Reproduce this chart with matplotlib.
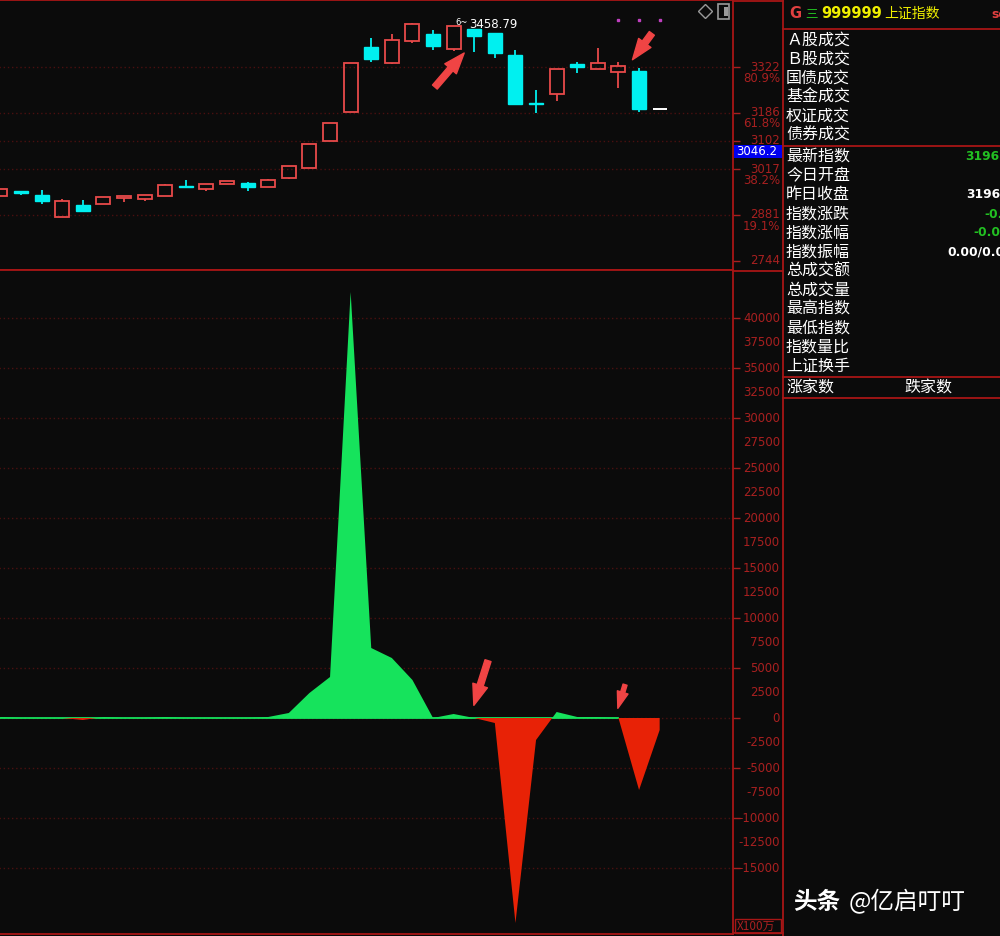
import numpy as np
import matplotlib
matplotlib.use('Agg')
import matplotlib.pyplot as plt
from matplotlib.patches import Rectangle
from matplotlib.lines import Line2D
from matplotlib.transforms import blended_transform_factory

# ---- data: daily candles of 上证指数 (last one = today, no trade yet)
opens = [2937.6, 2952.5, 2940.6, 2875.1, 2910.8, 2913.8, 2931.7, 2928.7, 2937.6, 2967.4,
         2958.5, 2973.4, 2976.4, 2964.4, 2991.3, 3021.1, 3101.5, 3188.0, 3381.6, 3334.0,
         3399.5, 3420.4, 3375.7, 3435.3, 3423.4, 3357.8, 3215.0, 3241.6, 3331.0, 3316.1,
         3307.1, 3310.1, 3196.9]
closes = [2958.5, 2946.6, 2922.7, 2922.7, 2892.9, 2934.6, 2937.6, 2940.6, 2970.4, 2964.4,
          2973.4, 2982.3, 2964.4, 2985.3, 3027.0, 3092.6, 3155.2, 3334.0, 3345.9, 3402.5,
          3450.2, 3384.6, 3444.2, 3414.4, 3363.8, 3211.8, 3212.5, 3316.1, 3322.0, 3334.0,
          3325.0, 3196.9, 3196.9]
highs = [2958.5, 2952.5, 2955.5, 2928.7, 2925.7, 2934.6, 2937.6, 2940.6, 2973.4, 2985.3,
         2973.4, 2982.3, 2979.3, 2988.3, 3027.0, 3092.6, 3155.2, 3334.0, 3408.5, 3420.4,
         3453.2, 3432.3, 3444.2, 3435.3, 3423.4, 3372.7, 3253.5, 3316.1, 3336.9, 3378.7,
         3336.9, 3319.0, 3196.9]
lows = [2937.6, 2940.6, 2913.8, 2875.1, 2892.9, 2913.8, 2919.7, 2922.7, 2937.6, 2961.5,
        2952.5, 2973.4, 2952.5, 2964.4, 2988.3, 3021.1, 3101.5, 3188.0, 3336.9, 3331.0,
        3393.6, 3372.7, 3369.7, 3366.7, 3348.9, 3211.8, 3185.0, 3220.7, 3304.2, 3316.1,
        3259.5, 3188.0, 3196.9]
high_mark = 3458.79

# net flow indicator (X100万)
flow = [100, 0, 0, 0, -200, 100, 0, 0, 100, 0, 0, 0, 0, 100, 500, 2500, 4100, 42600,
        7000, 6000, 3800, 0, 400, 0, -500, -20500, -2200, 600, 100, 100, 0, -7200, -1200]

price_ticks = [3322, 3186, 3102, 3017, 2881, 2744]
price_pcts = ['80.9%', '61.8%', '', '38.2%', '19.1%', '']
grid_prices = [3322, 3186, 3102, 3017, 2881]
flow_labels = list(range(40000, -15001, -2500))
flow_grid = list(range(40000, -15001, -5000))

info_top = ['Ａ股成交', 'Ｂ股成交', '国债成交', '基金成交', '权证成交', '债券成交']
info_rows = ['最新指数', '今日开盘', '昨日收盘', '指数涨跌', '指数涨幅', '指数振幅',
             '总成交额', '总成交量', '最高指数', '最低指数', '指数量比', '上证换手']
info_vals = {'最新指数': ('3196.', '#22c022', 965), '昨日收盘': ('3196.', 'white', 966),
             '指数涨跌': ('-0.', '#22c022', 984), '指数涨幅': ('-0.0', '#22c022', 973),
             '指数振幅': ('0.00/0.00', 'white', 947)}

W, H = 1000, 936
bg = '#0b0b0b'
line_red = '#a81616'
axis_red = '#a82020'
grid_red = '#4a1010'
candle_red = '#e84a4a'
cyan = '#00f0f0'
green = '#16e35c'
flow_red = '#e82206'
cjk = ['Noto Sans CJK SC', 'DejaVu Sans']


def fx(px):
    return px / W


def fy(py):
    return 1 - py / H


def ftext(px, py, s, **kw):
    fig.text(fx(px), fy(py), s, **kw)


def fline(x0, y0, x1, y1, color=line_red, lw=1.3):
    fig.add_artist(Line2D([fx(x0), fx(x1)], [fy(y0), fy(y1)], transform=fig.transFigure,
                          color=color, lw=lw))


fig = plt.figure(figsize=(10, 9.36), dpi=100, facecolor=bg)

ax1 = fig.add_axes([0, fy(270), fx(733), 270 / H])
ax2 = fig.add_axes([0, fy(934), fx(733), 664 / H])
for ax in (ax1, ax2):
    ax.set_facecolor(bg)
    ax.set_xlim(-0.02, 35.56)
    ax.set_xticks([])
    ax.spines['left'].set_visible(False)
    for s in ('top', 'right', 'bottom'):
        ax.spines[s].set_color(line_red)
        ax.spines[s].set_linewidth(1.3)
    ax.tick_params(axis='y', left=False, right=True, labelleft=False, labelright=False,
                   length=5, width=1, color=axis_red, direction='out')

ax1.set_ylim(2717.1, 3521.7)
ax2.set_ylim(-21600, 44800)
ax1.set_yticks(price_ticks)
ax2.set_yticks(flow_grid)

# ---- candles
x = np.arange(len(opens))
bw = 0.68
ax1.hlines(grid_prices, -1, 40, colors=grid_red, linestyles=(0, (1, 2)), lw=1, zorder=0)
for i in x:
    o, c, h, l = opens[i], closes[i], highs[i], lows[i]
    if i == len(x) - 1:
        ax1.hlines(c, i - bw / 2, i + bw / 2, color='white', lw=1.4)
        continue
    top, bot = max(o, c), min(o, c)
    if c >= o:
        ax1.add_patch(Rectangle((i - bw / 2, bot), bw, max(top - bot, 1.5), fill=False,
                                ec=candle_red, lw=1.3))
        if h > top:
            ax1.vlines(i, top, h, color=candle_red, lw=1.3)
        if l < bot:
            ax1.vlines(i, l, bot, color=candle_red, lw=1.3)
    else:
        ax1.vlines(i, l, h, color=cyan, lw=1.3)
        ax1.add_patch(Rectangle((i - bw / 2, c), bw, max(o - c, 1.5), fc=cyan, ec=cyan, lw=1))

# high marker
ax1.annotate(f'{high_mark:.2f}', xy=(23, highs[23]), xytext=(-4, 3), textcoords='offset points',
             color='white', fontsize=8.5, ha='left', va='center')
ax1.annotate('6~', xy=(23, highs[23]), xytext=(-5, 5), textcoords='offset points',
             color='white', fontsize=6, ha='right', va='center')

# magenta dots over last candles
ax1.plot(x[-3:], [3462] * 3, ls='none', marker='s', ms=1.8, color='#c040c0')

# toolbar icons
ax1.plot([0.962], [0.96], transform=ax1.transAxes, marker='D', ms=7, mfc='none',
         mec='#9a9a9a', mew=1)
ax1.add_patch(Rectangle((0.98, 0.93), 0.014, 0.055, transform=ax1.transAxes, fill=False,
                        ec='#9a9a9a', lw=1.2))
ax1.add_patch(Rectangle((0.988, 0.94), 0.005, 0.035, transform=ax1.transAxes, fc='#9a9a9a'))

# arrows
arrow_kw = dict(arrowstyle='simple,head_width=1.1,head_length=1.5,tail_width=0.45',
                color='#f04444', mutation_scale=10)
ax1.annotate('', xy=(22.6, 3370), xytext=(21.0, 3256), arrowprops=arrow_kw)
ax1.annotate('', xy=(30.6, 3337), xytext=(31.7, 3429), arrowprops=arrow_kw)
ax2.annotate('', xy=(22.94, 1000), xytext=(23.71, 6000), arrowprops=arrow_kw)
small_kw = dict(arrow_kw, arrowstyle='simple,head_width=0.8,head_length=1.2,tail_width=0.3')
ax2.annotate('', xy=(29.93, 700), xytext=(30.36, 3600), arrowprops=small_kw)

# price axis labels
t1 = blended_transform_factory(ax1.transAxes, ax1.transData)
for p, pct in zip(price_ticks, price_pcts):
    ax1.text(1.064, p, str(p), transform=t1, ha='right', va='center', color=axis_red,
             fontsize=8.5, clip_on=False)
    if pct:
        ax1.annotate(pct, xy=(1.064, p), xycoords=t1, xytext=(0, -8),
                     textcoords='offset points', ha='right', va='center', color=axis_red,
                     fontsize=8.5, annotation_clip=False)

# ---- flow area
f = np.array(flow, dtype=float)
xf = np.arange(len(f))
ax2.hlines(flow_grid, -1, 40, colors=grid_red, linestyles=(0, (1, 2)), lw=1, zorder=0)
ax2.plot(xf[:31], np.zeros(31), color=green, lw=1.3, zorder=1)
ax2.fill_between(xf, f, 0, where=f >= 0, interpolate=True, color=green, lw=0, zorder=2)
ax2.fill_between(xf, f, 0, where=f <= 0, interpolate=True, color=flow_red, lw=0, zorder=2)

t2 = blended_transform_factory(ax2.transAxes, ax2.transData)
for v in flow_labels:
    ax2.text(1.064, v, str(v), transform=t2, ha='right', va='center', color=axis_red,
             fontsize=8.5, clip_on=False)

# ---- frame lines around axis column / info panel
fline(783, 0, 783, H)
fline(733, 271, 783, 271)
fline(733, 1, 783, 1)
fline(733, 933, 783, 933)
for yy in (29, 146, 377, 398):
    fline(783, yy, W, yy)

# current price box
fig.add_artist(Rectangle((fx(734), fy(158)), 48 / W, 13 / H, transform=fig.transFigure,
                         fc='#0000f0', ec='none', zorder=5))
ftext(736, 151.5, '3046.2', color='white', fontsize=8.5, va='center', ha='left', zorder=6)

# unit box
fig.add_artist(Rectangle((fx(735), fy(933)), 46 / W, 14 / H, transform=fig.transFigure,
                         fill=False, ec=line_red, lw=1))
ftext(737, 926, 'X100万', color=axis_red, fontsize=8.5, va='center', ha='left', family=cjk)

# ---- info panel
ftext(789, 14, 'G', color='#e04040', fontsize=10.5, va='center', fontweight='bold')
ftext(805, 14, '三', color='#22c022', fontsize=9, va='center', family=cjk)
ftext(821, 14, '999999', color='#f0f000', fontsize=10.5, va='center', fontweight='bold')
ftext(884, 14, '上证指数', color='#f0f000', fontsize=10, va='center', family=cjk)
ftext(991, 14, 'sc', color='#e04040', fontsize=9, va='center', fontweight='bold')

for k, s in enumerate(info_top):
    ftext(786, 40 + 19 * k, s, color='white', fontsize=11.5, va='center', family=cjk)
for k, s in enumerate(info_rows):
    yy = 157 + 19 * k
    ftext(786, yy, s, color='white', fontsize=11.5, va='center', family=cjk)
    if s in info_vals:
        val, col, xx = info_vals[s]
        ftext(xx, yy, val, color=col, fontsize=8.8, va='center', fontweight='bold')

ftext(786, 388, '涨家数', color='white', fontsize=11.5, va='center', family=cjk)
ftext(904, 388, '跌家数', color='white', fontsize=11.5, va='center', family=cjk)

# watermark
ftext(793, 902, '头条', color='white', fontsize=17, va='center', fontweight='bold', family=cjk)
ftext(849, 902, '@亿启叮叮', color='white', fontsize=17, va='center', family=cjk)

fig.savefig('out.png', dpi=100, facecolor=bg)
